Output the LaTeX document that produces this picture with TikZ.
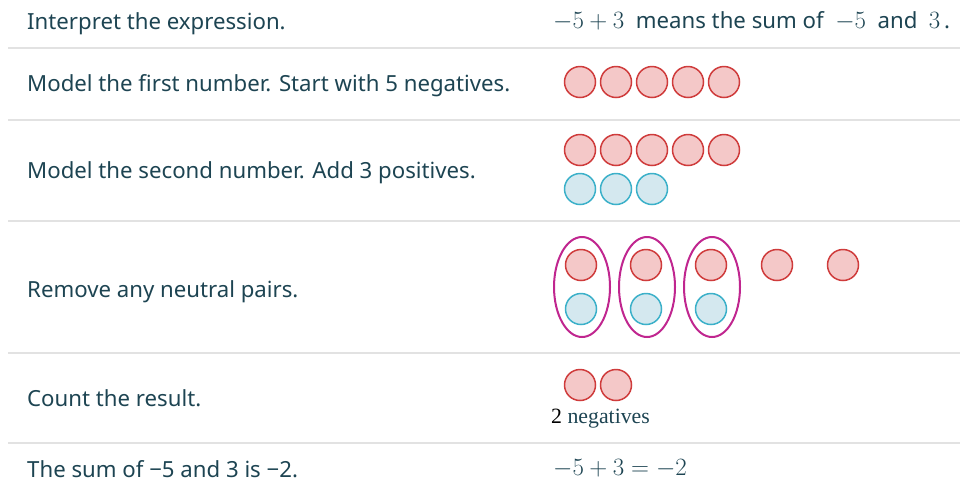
\documentclass[tikz,border=0pt]{standalone}
\usepackage{fontspec}
\usetikzlibrary{shapes.geometric}
\setmainfont{Noto Sans}
\newfontfamily\serifnum{Liberation Serif}
\definecolor{txt}{HTML}{1D4452}
\definecolor{rule}{HTML}{E2E2E2}
\definecolor{negfill}{HTML}{F4C8C8}
\definecolor{negdraw}{HTML}{CF3B3B}
\definecolor{posfill}{HTML}{D4E8EF}
\definecolor{posdraw}{HTML}{3BB0C9}
\definecolor{pairc}{HTML}{C0268F}
\newcommand{\mfs}{\fontsize{24.5}{28}\selectfont}
\begin{document}
\begin{tikzpicture}[x=1pt,y=-1pt,
  lbl/.style={anchor=base west,inner sep=0pt,text=txt,font=\fontsize{22.2}{26}\selectfont},
  mth/.style={anchor=base west,inner sep=0pt,text=txt,font=\mfs},
  sepline/.style={draw=rule,line width=2pt},
  negchip/.style={circle,draw=negdraw,fill=negfill,line width=1.5pt,minimum size=31pt,inner sep=0pt},
  poschip/.style={circle,draw=posdraw,fill=posfill,line width=1.5pt,minimum size=31pt,inner sep=0pt},
  pairov/.style={ellipse,draw=pairc,line width=2pt,minimum width=56pt,minimum height=100pt,inner sep=0pt}]
\useasboundingbox (0,0) rectangle (960,491);
% separators
\foreach \yy/\nm in {48/s1,120/s2,221/s3,353/s4,443/s5}{
  \coordinate (\nm a) at (8,\yy);
  \coordinate (\nm b) at (960,\yy);
  \draw[sepline] (\nm a) -- (\nm b);
}
% left labels
\node[lbl] (l1) at (27,29) {Interpret the expression.};
\node[lbl] (l2) at (27,91) {Model the first number. Start with 5 negatives.};
\node[lbl] (l3) at (27,178) {Model the second number. Add 3 positives.};
\node[lbl] (l4) at (27,297) {Remove any neutral pairs.};
\node[lbl] (l5) at (27,406) {Count the result.};
\node[lbl] (l6) at (27,477) {The sum of −5 and 3 is −2.};
% row 1 right
\node[lbl] (r1) at (553,28) {{\mfs$-5+3$}\ \ means the sum of\ \ {\mfs$-5$}\ \ and\ \ {\mfs$3$}\,.};
% row 2
\foreach \i in {0,...,4}{
  \node[negchip] (a\i) at (580+36*\i,82) {};
}
% row 3
\foreach \i in {0,...,4}{
  \node[negchip] (b\i) at (580+36*\i,150) {};
}
\foreach \i in {0,...,2}{
  \node[poschip] (c\i) at (580+36*\i,189) {};
}
% row 4
\foreach \i/\xx in {0/581,1/646,2/711}{
  \node[negchip] (d\i) at (\xx,265) {};
  \node[poschip] (e\i) at (\xx,309) {};
  \node[pairov] (p\i) at (\xx+1,287) {};
}
\node[negchip] (d3) at (777,265) {};
\node[negchip] (d4) at (843,265) {};
% row 5
\node[negchip] (f0) at (580,385) {};
\node[negchip] (f1) at (616,385) {};
\node[anchor=base west,inner sep=0pt,font=\serifnum\fontsize{21.8}{25}\selectfont] (neglbl) at (551,423) {\textcolor{black}{2} \textcolor{txt}{negatives}};
% row 6
\node[mth] (r6) at (553,475) {$-5+3=-2$};
\end{tikzpicture}
\end{document}
